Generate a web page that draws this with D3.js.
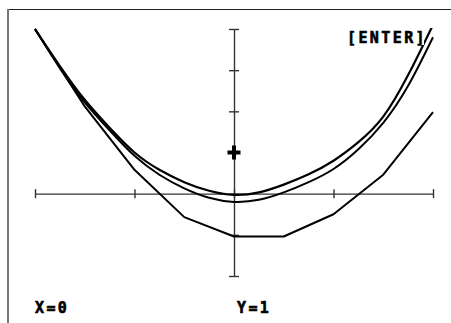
<!DOCTYPE html>
<html>
<head>
<meta charset="utf-8">
<script src="https://cdn.jsdelivr.net/npm/d3@7"></script>
<style>
  html, body { margin: 0; padding: 0; background: #fff; }
  svg { display: block; }
  .lbl { font-family: "DejaVu Sans Mono", monospace; font-weight: bold; font-size: 15px; letter-spacing: 2.4px; fill: #000; stroke: #000; stroke-width: 0.6px; }
</style>
</head>
<body>
<svg id="chart" width="451" height="323"></svg>
<script>
// ---- data ----
const xTicks = [-2, -1, 0, 1, 2];
const yTicks = [-2, -1, 0, 1, 2, 3, 4];
const curveX = [-2, -1.75, -1.5, -1.25, -1, -0.75, -0.5, -0.25, 0, 0.25, 0.5, 0.75, 1, 1.25, 1.5, 1.75, 2];
const upperY = [4.0, 3.1, 2.28, 1.6, 1.0, 0.58, 0.28, 0.07, -0.03, 0.03, 0.22, 0.47, 0.8, 1.25, 1.87, 2.88, 4.1];
const middleY = [4.0, 3.05, 2.22, 1.54, 0.92, 0.46, 0.13, -0.1, -0.2, -0.15, 0.03, 0.28, 0.6, 1.08, 1.72, 2.62, 3.8];
const coarseX = [-2, -1.5, -1, -0.5, 0, 0.5, 1, 1.5, 2];
const coarseY = [4.0, 2.12, 0.58, -0.57, -1.04, -1.04, -0.5, 0.46, 1.98];
const cursor = { x: 0, y: 1 };
const labelX = "X=0";
const labelY = "Y=1";
const labelEnter = "[ENTER]";

const svg = d3.select("#chart");
const x = d3.scaleLinear().domain([-2, 2]).range([35, 433]);
const y = d3.scaleLinear().domain([-2, 4]).range([276, 29]);

// screen frame
svg.append("line").attr("x1", 7).attr("x2", 451).attr("y1", 9.5).attr("y2", 9.5)
  .attr("stroke", "#222").attr("stroke-width", 1.2);
svg.append("line").attr("x1", 8).attr("x2", 8).attr("y1", 9).attr("y2", 323)
  .attr("stroke", "#777").attr("stroke-width", 2);

// axes
const xa = svg.append("g").attr("transform", `translate(0,${y(0)})`)
  .call(d3.axisBottom(x).tickValues(xTicks).tickSize(9).tickSizeOuter(0).tickFormat(""));
xa.selectAll(".tick line").attr("y1", -4.5).attr("y2", 4.5);
const ya = svg.append("g").attr("transform", `translate(${x(0)},0)`)
  .call(d3.axisLeft(y).tickValues(yTicks).tickSize(10).tickSizeOuter(0).tickFormat(""));
ya.selectAll(".tick line").attr("x1", -5).attr("x2", 5);
svg.selectAll(".domain, .tick line").attr("stroke", "#333").attr("stroke-width", 1.4);
svg.selectAll(".tick text").remove();

// clip to window
svg.append("clipPath").attr("id", "win").append("rect")
  .attr("x", x(-2) - 2).attr("y", y(4) - 1).attr("width", x(2) - x(-2) + 4).attr("height", y(-2) - y(4) + 2);

const plot = svg.append("g").attr("clip-path", "url(#win)");
const smooth = d3.line().x((d, i) => x(curveX[i])).y(d => y(d)).curve(d3.curveNatural);
const rough = d3.line().x((d, i) => x(coarseX[i])).y(d => y(d));

plot.append("path").attr("d", rough(coarseY)).attr("fill", "none").attr("stroke", "#000").attr("stroke-width", 2).attr("stroke-linejoin", "round");
plot.append("path").attr("d", smooth(middleY)).attr("fill", "none").attr("stroke", "#000").attr("stroke-width", 2);
plot.append("path").attr("d", smooth(upperY)).attr("fill", "none").attr("stroke", "#000").attr("stroke-width", 2.2);

// cursor
const cx = x(cursor.x), cy = y(cursor.y);
svg.append("rect").attr("x", cx - 6.5).attr("y", cy - 2).attr("width", 13).attr("height", 4).attr("fill", "#000");
svg.append("rect").attr("x", cx - 2).attr("y", cy - 7).attr("width", 4).attr("height", 14).attr("fill", "#000");

// labels
const bg = svg.append("rect").attr("fill", "#fff");
const et = svg.append("text").attr("class", "lbl").attr("x", 347).attr("y", 43).text(labelEnter);
const bb = et.node().getBBox();
bg.attr("x", bb.x - 1).attr("y", bb.y + 2).attr("width", bb.width - 2).attr("height", bb.height - 4);
svg.append("text").attr("class", "lbl").attr("x", 35).attr("y", 313).text(labelX);
svg.append("text").attr("class", "lbl").attr("x", 237).attr("y", 313).text(labelY);
</script>
</body>
</html>
